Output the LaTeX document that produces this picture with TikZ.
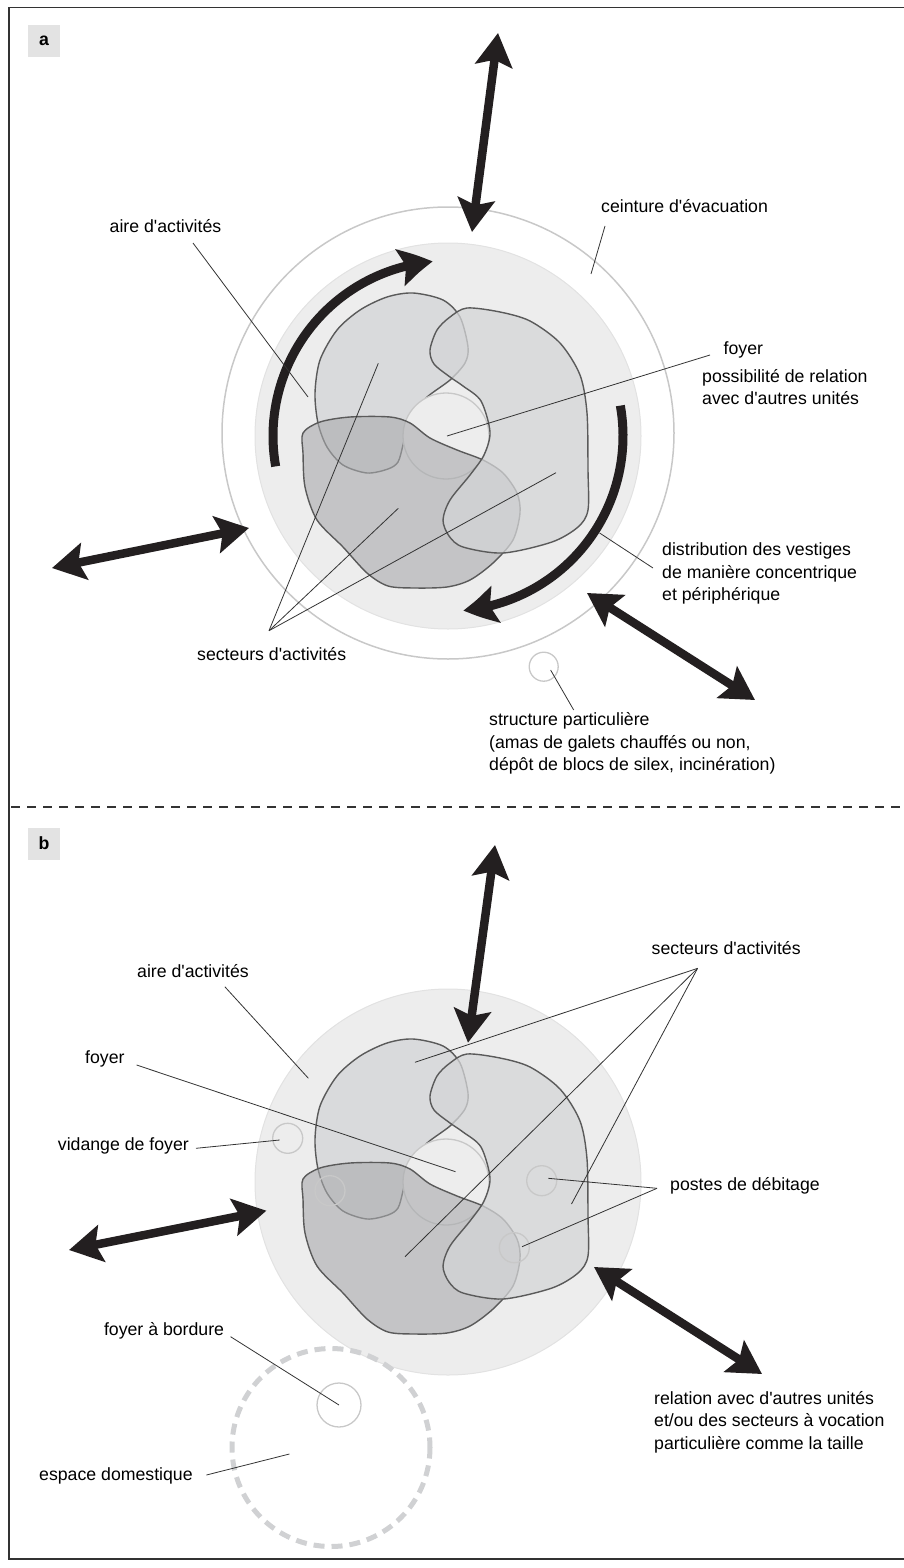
\documentclass[tikz,border=0pt]{standalone}
\usepackage{fontspec}
\setmainfont{Liberation Sans}
\usetikzlibrary{arrows.meta,bending}

\definecolor{inkblack}{HTML}{231F20}
\definecolor{airegray}{HTML}{EDEDED}
\definecolor{airerim}{HTML}{E2E2E2}
\definecolor{ringgray}{HTML}{C8C8C8}
\definecolor{fillA}{HTML}{D9DADC}
\definecolor{fillB}{HTML}{D4D5D7}
\definecolor{fillC}{HTML}{A9AAAD}
\definecolor{outlinegray}{HTML}{5A5A5A}
\definecolor{taggray}{HTML}{E3E3E3}
\definecolor{domgray}{HTML}{D0D1D3}

\tikzset{
  lbl/.style={anchor=mid west, inner sep=0pt, font=\fontsize{17.7}{22.5}\selectfont},
  tag/.style={fill=taggray, minimum size=32pt, inner sep=0pt, font=\fontsize{17.7}{20}\selectfont\bfseries},
  leader/.style={draw=black!80, line width=0.8pt},
  frame/.style={draw=black!80, line width=1.2pt},
  sepline/.style={draw=black!80, line width=1.2pt, dash pattern=on 9.3pt off 6.7pt},
  dblarrow/.style={draw=inkblack, line width=8.5pt,
    {Stealth[length=33pt,width=37pt,inset=6pt]}-{Stealth[length=33pt,width=37pt,inset=6pt]}},
  arcarrow/.style={draw=inkblack, line width=9pt, -{Stealth[length=33pt,width=37pt,inset=6pt,bend]}},
  spot/.style={draw=ringgray, line width=1.3pt},
  sector/.style={draw=outlinegray, line width=1.4pt},
}

% the three activity sectors (panel a position)
\newcommand\sectorA{plot[smooth cycle] coordinates {(413,293) (443,300) (460,317) (468,347) (465,363)
  (450,380) (426,398) (409,420) (403,445) (398,462) (388,469) (367,473) (343,465) (327,447)
  (318,423) (315,393) (320,360) (337,330) (360,310) (387,297)}}
\newcommand\sectorB{plot[smooth cycle] coordinates {(467,308) (500,312) (530,321) (560,343) (580,375)
  (587,413) (588,470) (588,510) (578,527) (552,542) (503,553) (463,547) (449,536) (443,520)
  (450,500) (470,475) (484,455) (490,432) (481,401) (463,386) (450,377) (434,364) (430,350)
  (437,330) (450,317)}}
\newcommand\sectorC{plot[smooth cycle] coordinates {(303,433) (320,422) (350,417) (390,417) (410,423)
  (430,438) (457,450) (483,460) (503,473) (517,493) (520,513) (513,540) (493,563) (470,580)
  (447,587) (415,588) (388,586) (367,573) (343,547) (317,520) (305,487) (303,453)}}
% activity area with sectors and hearth
\newcommand\drawunit{%
  \filldraw[fill=airegray, draw=airerim, line width=1pt] (448,436) circle[radius=193];
  \draw[sector, fill=fillA] \sectorA;
  \draw[spot, fill=airegray] (446,436) circle[radius=43];
  \draw[sector, fill=fillC, fill opacity=0.6] \sectorC;
  \draw[sector, fill=fillB, fill opacity=0.75] \sectorB;
}

\begin{document}
\begin{tikzpicture}[x=1pt, y=-1pt]
\useasboundingbox (0,0) rectangle (904,1568);
% frame and separator
\draw[frame] (904,7.3) -- (9,7.3) -- (9,1559) -- (904,1559);
\draw[sepline] (11,807) -- (904,807);

% ---------------- panel a ----------------
\node[tag] (tagA) at (44,41) {a};
\draw[ringgray, line width=1.5pt] (448,433) circle[radius=226];
\drawunit
\draw[arcarrow] (448,436) ++(170:175) arc[start angle=170, end angle=265, radius=175];
\draw[arcarrow] (448,436) ++(-10:175) arc[start angle=-10, end angle=85, radius=175];
\draw[spot] (543.7,666.7) circle[radius=14.5];

\node[lbl] (aireA) at (109.5,229.5) {aire d\textquotesingle activités};
\node[lbl] (ceintA) at (601,209.5) {ceinture d\textquotesingle évacuation};
\node[lbl] (foyerA) at (723.5,351.5) {foyer};
\foreach \txt [count=\i] in {possibilité de relation, avec d\textquotesingle autres unités}
  \node[lbl] (possA-\i) at (702,{379.5+22.5*(\i-1)}) {\txt};
\foreach \txt [count=\i] in {distribution des vestiges, de manière concentrique, et périphérique}
  \node[lbl] (distA-\i) at (662,{553.2+22.5*(\i-1)}) {\txt};
\node[lbl] (sectA) at (197,658.2) {secteurs d\textquotesingle activités};
\foreach \txt [count=\i] in {structure particulière, {(amas de galets chauffés ou non,}, {dépôt de blocs de silex, incinération)}}
  \node[lbl] (structA-\i) at (489,{723.2+22.5*(\i-1)}) {\txt};

\coordinate (aireA-pt) at (308,397);
\coordinate (ceintA-pt) at (591,274);
\coordinate (foyerA-pt) at (447,436);
\coordinate (distA-pt) at (599.6,533);
\coordinate (sectA-1) at (378.3,363.3);
\coordinate (sectA-2) at (398.3,508.3);
\coordinate (sectA-3) at (556,472.7);
\coordinate (structA-pt) at (550.6,670);
\draw[leader] ([shift={(83.5,13.5)}]aireA.mid west) -- (aireA-pt);
\draw[leader] ([shift={(4,16.5)}]ceintA.mid west) -- (ceintA-pt);
\draw[leader] ([shift={(-13.5,3.5)}]foyerA.mid west) -- (foyerA-pt);
\draw[leader] ([shift={(-9,14.8)}]distA-1.mid west) -- (distA-pt);
\foreach \e in {sectA-1,sectA-2,sectA-3}
  \draw[leader] ([shift={(72,-27.5)}]sectA.mid west) -- (\e);
\draw[leader] ([shift={(84.7,-13.2)}]structA-1.mid west) -- (structA-pt);

\coordinate (upA-out) at (498,33);
\coordinate (upA-in) at (472,232);
\coordinate (leftA-out) at (52,568);
\coordinate (leftA-in) at (249,528);
\coordinate (rightA-in) at (587,593);
\coordinate (rightA-out) at (755,700);
\foreach \a/\b in {upA-out/upA-in, leftA-out/leftA-in, rightA-in/rightA-out}
  \draw[dblarrow] (\a) -- (\b);

% ---------------- panel b ----------------
\node[tag] (tagB) at (44,843.5) {b};
\begin{scope}[shift={(0,746)}]
  \drawunit
\end{scope}
\foreach \x/\y/\r in {287.7/1138.3/15, 330/1190.7/15, 541.7/1180.7/15, 514.3/1247.7/15, 339/1405/22}
  \draw[spot] (\x,\y) circle[radius=\r];
\draw[domgray, line width=5pt, dash pattern=on 11pt off 7pt] (331,1447.5) circle[radius=99];

\node[lbl] (sectB) at (651.5,951.5) {secteurs d\textquotesingle activités};
\node[lbl] (aireB) at (137,974.8) {aire d\textquotesingle activités};
\node[lbl] (foyerB) at (85,1060.8) {foyer};
\node[lbl] (vidB) at (57.7,1148.2) {vidange de foyer};
\node[lbl] (postB) at (670,1188.2) {postes de débitage};
\node[lbl] (bordB) at (103.8,1333.2) {foyer à bordure};
\node[lbl] (domB) at (39,1478.2) {espace domestique};
\foreach \txt [count=\i] in {relation avec d\textquotesingle autres unités, et/ou des secteurs à vocation, particulière comme la taille}
  \node[lbl] (relB-\i) at (654,{1401.5+22.5*(\i-1)}) {\txt};

\coordinate (sectB-1) at (415,1062.3);
\coordinate (sectB-2) at (405,1256.7);
\coordinate (sectB-3) at (571.5,1204);
\coordinate (aireB-pt) at (308.4,1078.3);
\coordinate (foyerB-pt) at (455.5,1171.7);
\coordinate (vidB-pt) at (279.6,1140);
\coordinate (postB-1) at (548.3,1178.3);
\coordinate (postB-2) at (522,1246.7);
\coordinate (bordB-pt) at (339,1405);
\coordinate (domB-pt) at (289.4,1454);
\foreach \e in {sectB-1,sectB-2,sectB-3}
  \draw[leader] ([shift={(46.1,16.8)}]sectB.mid west) -- (\e);
\draw[leader] ([shift={(87.8,11.9)}]aireB.mid west) -- (aireB-pt);
\draw[leader] ([shift={(51.6,4.2)}]foyerB.mid west) -- (foyerB-pt);
\draw[leader] ([shift={(138.3,0.1)}]vidB.mid west) -- (vidB-pt);
\foreach \e in {postB-1,postB-2}
  \draw[leader] ([shift={(-13,0.1)}]postB.mid west) -- (\e);
\draw[leader] ([shift={(126.8,3.5)}]bordB.mid west) -- (bordB-pt);
\draw[leader] ([shift={(167.4,-3.2)}]domB.mid west) -- (domB-pt);

\coordinate (upB-out) at (495,845);
\coordinate (upB-in) at (468,1042.7);
\coordinate (leftB-out) at (69,1250);
\coordinate (leftB-in) at (266.4,1210.7);
\coordinate (rightB-in) at (594,1267);
\coordinate (rightB-out) at (762,1374);
\foreach \a/\b in {upB-out/upB-in, leftB-out/leftB-in, rightB-in/rightB-out}
  \draw[dblarrow] (\a) -- (\b);
\end{tikzpicture}
\end{document}
